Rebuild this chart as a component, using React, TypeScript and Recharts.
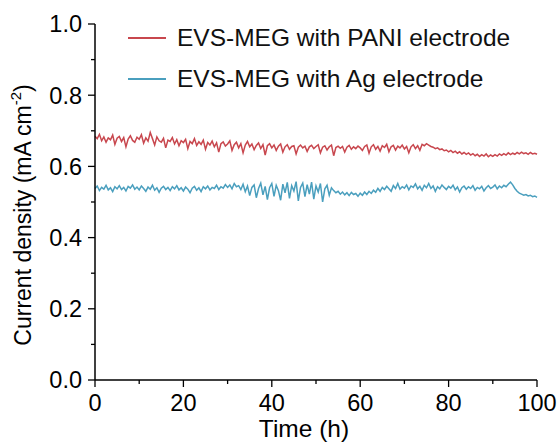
import React from 'react';
import { LineChart, Line, XAxis, YAxis } from 'recharts';

const timeStep = 0.5;
const paniValues = [
  0.685,0.678,0.690,0.672,0.683,0.668,0.680,0.675,0.688,0.662,0.679,0.684,0.670,0.681,0.655,0.677,0.686,0.673,0.668,0.682,
  0.676,0.689,0.665,0.680,0.671,0.695,0.678,0.660,0.683,0.672,0.668,0.679,0.652,0.674,0.670,0.681,0.663,0.675,0.658,0.672,
  0.667,0.676,0.650,0.670,0.664,0.678,0.659,0.669,0.662,0.674,0.648,0.667,0.660,0.671,0.655,0.666,0.640,0.664,0.669,0.657,
  0.663,0.672,0.645,0.661,0.668,0.652,0.664,0.638,0.660,0.670,0.655,0.663,0.647,0.659,0.666,0.650,0.661,0.632,0.658,0.664,
  0.652,0.660,0.645,0.657,0.663,0.640,0.655,0.661,0.648,0.656,0.658,0.635,0.654,0.660,0.652,0.657,0.642,0.655,0.659,0.650,
  0.656,0.661,0.638,0.654,0.658,0.646,0.655,0.660,0.630,0.653,0.657,0.651,0.656,0.640,0.654,0.659,0.648,0.655,0.650,0.657,
  0.652,0.645,0.656,0.660,0.637,0.655,0.661,0.648,0.656,0.643,0.658,0.653,0.662,0.641,0.655,0.659,0.646,0.657,0.652,0.660,
  0.649,0.656,0.638,0.655,0.661,0.650,0.658,0.645,0.662,0.658,0.664,0.660,0.656,0.654,0.650,0.652,0.647,0.649,0.644,0.646,
  0.641,0.645,0.639,0.643,0.637,0.641,0.635,0.639,0.634,0.638,0.632,0.636,0.630,0.634,0.628,0.633,0.629,0.635,0.627,0.632,
  0.628,0.633,0.629,0.635,0.631,0.636,0.632,0.638,0.633,0.637,0.634,0.639,0.635,0.640,0.636,0.638,0.634,0.639,0.635,0.637,
  0.634,
];
const agValues = [
  0.538,0.545,0.532,0.541,0.536,0.547,0.534,0.540,0.529,0.543,0.537,0.546,0.535,0.541,0.531,0.544,0.539,0.548,0.536,0.542,
  0.534,0.545,0.538,0.530,0.542,0.536,0.547,0.533,0.540,0.527,0.539,0.544,0.535,0.541,0.532,0.543,0.537,0.546,0.534,0.540,
  0.531,0.542,0.536,0.526,0.539,0.544,0.533,0.540,0.529,0.543,0.537,0.545,0.534,0.541,0.538,0.547,0.535,0.543,0.539,0.549,
  0.541,0.548,0.537,0.552,0.543,0.546,0.535,0.550,0.529,0.545,0.518,0.541,0.548,0.512,0.538,0.553,0.520,0.544,0.507,0.540,
  0.552,0.516,0.547,0.532,0.505,0.550,0.526,0.555,0.510,0.546,0.531,0.557,0.503,0.541,0.553,0.515,0.549,0.522,0.556,0.508,
  0.545,0.528,0.552,0.500,0.537,0.547,0.519,0.540,0.532,0.526,0.530,0.522,0.528,0.520,0.526,0.518,0.527,0.521,0.524,0.516,
  0.525,0.519,0.528,0.521,0.530,0.524,0.533,0.527,0.538,0.530,0.541,0.535,0.544,0.537,0.530,0.546,0.538,0.552,0.536,0.543,
  0.539,0.548,0.534,0.545,0.541,0.551,0.537,0.544,0.533,0.547,0.540,0.552,0.538,0.545,0.530,0.543,0.537,0.548,0.541,0.535,
  0.544,0.539,0.547,0.534,0.542,0.528,0.540,0.545,0.536,0.543,0.538,0.546,0.533,0.541,0.537,0.544,0.531,0.540,0.546,0.538,
  0.542,0.548,0.537,0.545,0.540,0.547,0.543,0.550,0.556,0.548,0.538,0.530,0.525,0.522,0.519,0.521,0.517,0.519,0.515,0.517,
  0.513,
];
const xTicks = [0, 10, 20, 30, 40, 50, 60, 70, 80, 90, 100];
const xMajor = [0, 20, 40, 60, 80, 100];
const yTicks = [0, 0.1, 0.2, 0.3, 0.4, 0.5, 0.6, 0.7, 0.8, 0.9, 1.0];
const yMajor = [0, 0.2, 0.4, 0.6, 0.8, 1.0];
const seriesNames = ['EVS-MEG with PANI electrode', 'EVS-MEG with Ag electrode'];
const seriesColors = ['#c8474e', '#4a9fbe'];

const data = paniValues.map((v, i) => ({ t: i * timeStep, pani: v, ag: agValues[i] }));

const FONT = '"Liberation Sans", Arial, sans-serif';
const TICK = 7;
const MINOR = 4;
const XMARGIN = 24;
const YMARGIN = 6;
const TICK_FONT = 23.5;

const isMajor = (list: number[], v: number) => list.some((m) => Math.abs(m - v) < 1e-6);

const XTick = (props: any) => {
  const { x, y, payload } = props;
  const axisY = y - TICK - XMARGIN;
  const major = isMajor(xMajor, payload.value);
  return (
    <g>
      <line x1={x} x2={x} y1={axisY} y2={axisY + (major ? TICK : MINOR)} stroke="#000" strokeWidth={1.3} />
      {major && (
        <text x={x} y={y} textAnchor="middle" fontFamily={FONT} fontSize={TICK_FONT} fill="#000">
          {payload.value}
        </text>
      )}
    </g>
  );
};

const YTick = (props: any) => {
  const { x, y, payload } = props;
  const axisX = x + TICK + YMARGIN;
  const major = isMajor(yMajor, payload.value);
  return (
    <g>
      <line x1={axisX} x2={axisX - (major ? TICK : MINOR)} y1={y} y2={y} stroke="#000" strokeWidth={1.3} />
      {major && (
        <text x={x} y={y} dy="0.36em" textAnchor="end" fontFamily={FONT} fontSize={TICK_FONT} fill="#000">
          {Number(payload.value).toFixed(1)}
        </text>
      )}
    </g>
  );
};

const YTitle = (props: any) => {
  const { viewBox } = props;
  const cx = 23;
  const cy = viewBox.y + viewBox.height / 2 + 13;
  return (
    <text x={cx} y={cy} transform={`rotate(-90 ${cx} ${cy})`} textAnchor="middle" dominantBaseline="central" fontFamily={FONT} fontSize={23} fill="#000">
      Current density (mA cm
      <tspan dy={-8} fontSize={15}>-2</tspan>
      <tspan dy={8}>)</tspan>
    </text>
  );
};

const XTitle = (props: any) => {
  const { viewBox } = props;
  const cx = viewBox.x + viewBox.width / 2 - 12;
  return (
    <text x={cx} y={437} textAnchor="middle" fontFamily={FONT} fontSize={24.5} fill="#000">
      Time (h)
    </text>
  );
};

const LegendBox = () => (
  <div style={{ position: 'absolute', top: 17, left: 127, fontFamily: FONT, fontSize: 24.5, color: '#111', pointerEvents: 'none', whiteSpace: 'nowrap' }}>
    {seriesNames.map((n, i) => (
      <div key={n} style={{ display: 'flex', alignItems: 'center', height: 41 }}>
        <svg width={40} height={10} style={{ marginRight: 10 }}>
          <line x1={1} x2={39} y1={5} y2={5} stroke={seriesColors[i]} strokeWidth={2} />
        </svg>
        <span>{n}</span>
      </div>
    ))}
  </div>
);

export default function App() {
  return (
    <div style={{ position: 'absolute', left: 0, top: 0, width: 559, height: 444, background: '#fff' }}>
      <LineChart width={559} height={444} data={data} margin={{ top: 24, right: 22, bottom: 34, left: 35 }}>
        <XAxis
          dataKey="t"
          type="number"
          domain={[0, 100]}
          ticks={xTicks}
          interval={0}
          tick={<XTick />}
          tickLine={false}
          tickSize={TICK}
          tickMargin={XMARGIN}
          height={30}
          axisLine={{ stroke: '#000', strokeWidth: 1.5 }}
          label={<XTitle />}
        />
        <XAxis xAxisId="top" orientation="top" dataKey="t" type="number" domain={[0, 100]} tick={false} tickLine={false} height={0} axisLine={{ stroke: '#000', strokeWidth: 1.5 }} />
        <YAxis
          type="number"
          domain={[0, 1]}
          ticks={yTicks}
          interval={0}
          tick={<YTick />}
          tickLine={false}
          tickSize={TICK}
          tickMargin={YMARGIN}
          width={60}
          axisLine={{ stroke: '#000', strokeWidth: 1.5 }}
          label={<YTitle />}
        />
        <YAxis yAxisId="right" orientation="right" domain={[0, 1]} tick={false} tickLine={false} width={0} axisLine={{ stroke: '#000', strokeWidth: 1.5 }} />
        <Line dataKey="pani" stroke={seriesColors[0]} strokeWidth={1.5} dot={false} isAnimationActive={false} />
        <Line dataKey="ag" stroke={seriesColors[1]} strokeWidth={1.5} dot={false} isAnimationActive={false} />
      </LineChart>
      <LegendBox />
    </div>
  );
}
